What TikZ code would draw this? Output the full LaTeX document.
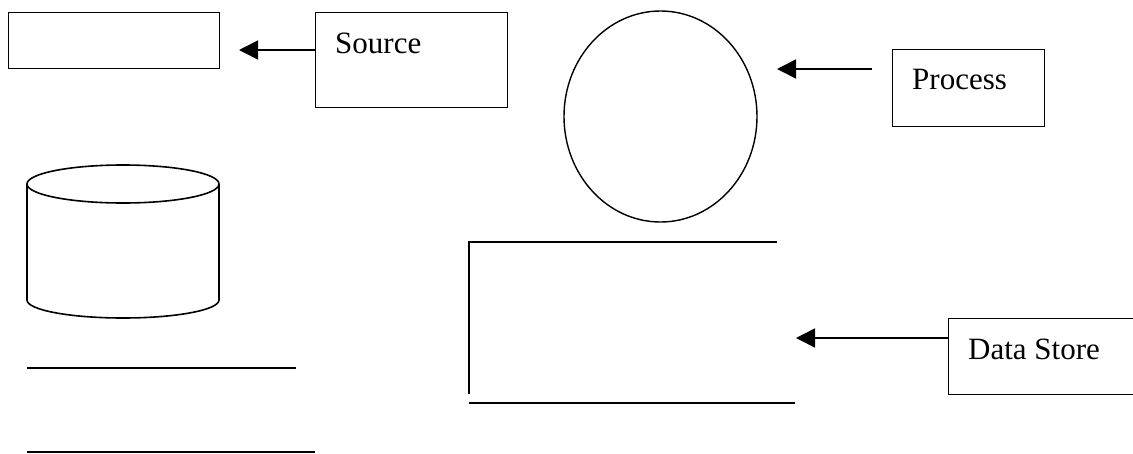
\documentclass[tikz,border=0pt]{standalone}
\usepackage{fontspec}
\setmainfont{Liberation Serif}
\usetikzlibrary{arrows.meta,shapes.geometric}
\begin{document}
\begin{tikzpicture}[x=1pt,y=-1pt,
  box/.style={draw,line width=1.4pt,rectangle,inner sep=0pt,anchor=north west},
  lbl/.style={anchor=base west,inner sep=0pt,font=\fontsize{31}{37}\selectfont},
  flow/.style={line width=1.6pt,-{Triangle[length=19pt,width=19pt]}},
  rule/.style={line width=1.6pt}]
\useasboundingbox (0,0) rectangle (1133,453);
\clip (0,0) rectangle (1133,453);

% external entity symbol and its caption
\node[box,minimum width=211pt,minimum height=56pt] (entity) at (8,12) {};
\node[box,minimum width=192pt,minimum height=95pt] (source) at (315,12) {};
\node[lbl] (sourcetext) at (335,53) {Source};
\coordinate (srcTip) at (239,50);
\draw[flow] (source.west |- srcTip) -- (srcTip);

% process symbol and its caption
\node[draw,ellipse,line width=1.4pt,inner sep=0pt,minimum width=193pt,minimum height=211pt] (proc) at (660.5,116.5) {};
\node[box,minimum width=152pt,minimum height=77pt] (process) at (892,49) {};
\node[lbl] (processtext) at (912,89) {Process};
\coordinate (procTip) at (777,69);
\coordinate (procTail) at (872,69);
\draw[flow] (procTail) -- (procTip);

% database cylinder
\draw[rule] (27,184) -- (27,300) arc[start angle=180,end angle=0,x radius=96,y radius=18] -- (219,184);
\draw[rule] (123,184) ellipse[x radius=96,y radius=19];

% two-line store symbol
\draw[rule] (27,368) -- (296,368);
\draw[rule] (27,452) -- (315,452);

% open-ended data store symbol and its caption
\draw[rule] (777,242) -- (469,242) -- (469,394);
\draw[rule] (469,403) -- (795,403);
\node[box,minimum width=200pt,minimum height=76pt] (store) at (948,318) {};
\node[lbl] (storetext) at (968,359) {Data Store};
\coordinate (storeTip) at (796,338);
\draw[flow] (store.west |- storeTip) -- (storeTip);
\end{tikzpicture}
\end{document}
